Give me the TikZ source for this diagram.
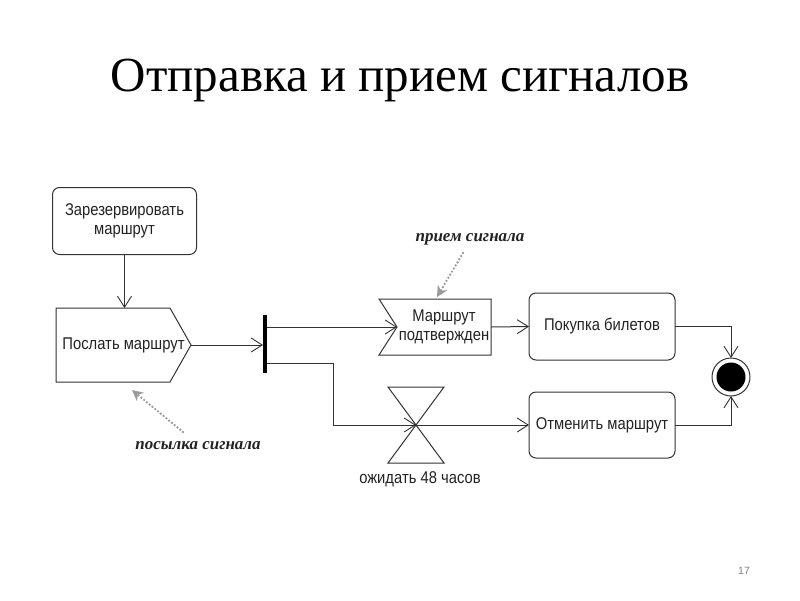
\documentclass[tikz,border=0pt]{standalone}
\usepackage{fontspec}
\setmainfont{Liberation Serif}
\newfontfamily\diag[FakeStretch=0.87]{Liberation Sans}
\newfontfamily\pagefont{Liberation Sans}
\newfontfamily\scriptlab{Liberation Serif}
\usetikzlibrary{arrows.meta}
\definecolor{ink}{HTML}{333333}
\definecolor{txt}{HTML}{222222}
\definecolor{dotgray}{HTML}{9A9A9A}
\begin{document}
\begin{tikzpicture}[x=1pt,y=-1pt,
  every node/.style={inner sep=0pt,outer sep=0pt},
  dtext/.style={font=\diag\fontsize{17}{18.5}\selectfont, text=txt, align=center},
  actbox/.style={dtext, draw=ink, line width=1pt, rounded corners=7pt},
  flow/.style={draw=ink, line width=1pt, -{Straight Barb[length=11pt,width=14pt,line width=0.9pt]}},
  plain/.style={draw=ink, line width=1pt},
  note/.style={font=\scriptlab\bfseries\itshape\fontsize{17}{20}\selectfont, text=txt},
  notearrow/.style={draw=dotgray, line width=2.6pt, line cap=round, dash pattern=on 0pt off 3.6pt, -{Stealth[length=11pt,width=11pt,line cap=butt]}}
]
\useasboundingbox (0,0) rectangle (800,600);

% title
\node[font=\fontsize{49}{56}\selectfont] (title) at (400,80) {Отправка и прием сигналов};
\node[font=\pagefont\fontsize{10.5}{12}\selectfont, text=gray] (pnum) at (744,571) {17};

% nodes
\node[actbox, minimum width=144, minimum height=67] (res) at (124.5,221) {Зарезервировать\\маршрут};
\node[dtext, minimum width=135, minimum height=74] (send) at (123.5,345) {Послать маршрут};
\draw[plain] (send.north west) -- ([xshift=-21]send.north east) -- (send.east)
   -- ([xshift=-21]send.south east) -- (send.south west) -- cycle;

\node[fill=black, minimum width=4, minimum height=58] (fork) at (265,344) {};

\node[dtext, minimum width=94, minimum height=56] (rcv) at (444,327) {Маршрут\\подтвержден};
\draw[plain] ([xshift=-18]rcv.north west) -- (rcv.north east) -- (rcv.south east)
   -- ([xshift=-18]rcv.south west) -- (rcv.west) -- cycle;

\node[actbox, minimum width=146, minimum height=67] (buy) at (602,326.5) {Покупка билетов};
\node[actbox, minimum width=146, minimum height=66] (cancel) at (602,425) {Отменить маршрут};

\node[minimum width=56, minimum height=76] (wait) at (416,425) {};
\draw[plain] (wait.north west) -- (wait.north east) -- (wait.south west) -- (wait.south east) -- cycle;
\node[dtext] (waitlab) at (420,479) {ожидать 48 часов};

\node[circle, draw=ink, line width=1pt, minimum size=38] (final) at (731,377) {};
\node[circle, fill=black, minimum size=29] (finalin) at (final.center) {};

% connectors
\draw[flow] (res.south) -- (res.south |- send.north);
\draw[flow] (send.east) -- (send.east -| fork.west);
\draw[flow] (fork.east |- rcv.west) -- (rcv.west);
\coordinate (bend) at (333,363);
\draw[flow] (fork.east |- bend) -- (bend) -- (bend |- wait.center) -- (wait.center);
\draw[flow] (wait.center) -- (cancel.west);
\draw[flow] (rcv.east) -- (buy.west);
\draw[flow] (buy.east) -- (buy.east -| final.north) -- (final.north);
\draw[flow] (cancel.east) -- (cancel.east -| final.south) -- (final.south);

% notes
\node[note] (notercv) at (470,239) {прием сигнала};
\coordinate (rcvtip) at (437,297);
\draw[notearrow] ([xshift=-7,yshift=-14]notercv.center) -- (rcvtip);
\node[note] (notesend) at (198,446) {посылка сигнала};
\coordinate (sendtip) at (132,390);
\draw[notearrow] ([xshift=-15,yshift=14]notesend.center) -- (sendtip);
\end{tikzpicture}
\end{document}
